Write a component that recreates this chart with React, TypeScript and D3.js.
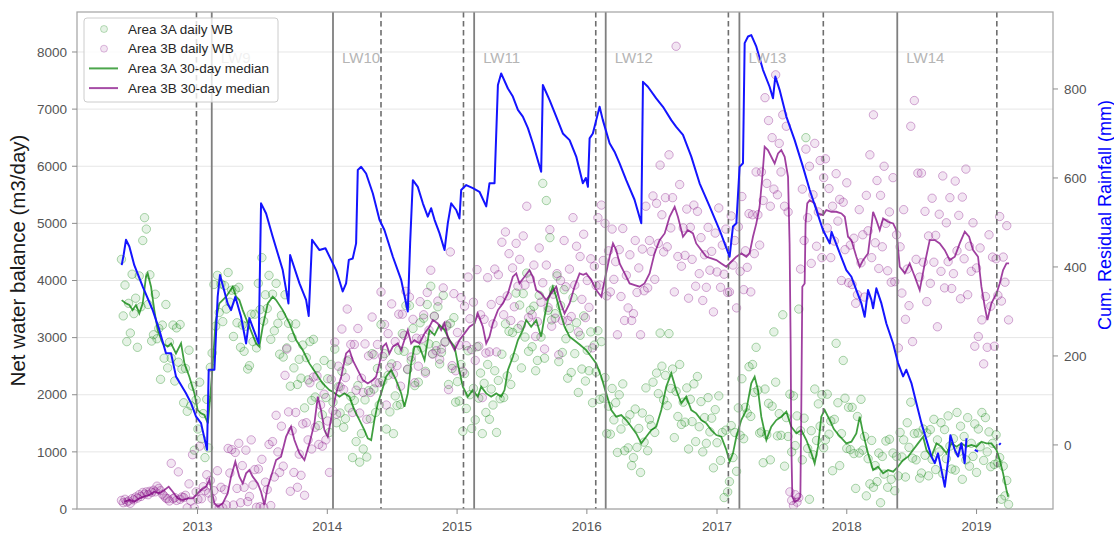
import React, { useRef, useEffect } from 'react';
import * as d3 from 'd3';

// daily water balance, sampled every 5 days from wbStart (m3/day)
const wbStart = '2012-06-01';
const wbStepDays = 5;

const area3A = [
  4370, 3380, 3920, 2930, 3600, 3080, 4110, 3420, 3690, 2830, 4080, 3540, 4700, 5100, 4900, 3580, 4100, 2940,
  3050, 3760, 2980, 3160, 2270, 3220, 2640, 3580, 2470, 2920, 2640, 3220, 2240, 3170, 2570, 3230, 2450, 1860,
  2460, 1710, 2780, 1810, 2150, 1030, 1910, 1400, 2220, 1230, 1670, 900, 1920, 1070, 2480, 2730, 3930, 3200,
  4090, 3440, 3940, 3280, 3910, 3500, 4140, 3620, 3830, 3020, 3840, 3260, 3880, 2830, 3220, 2760, 3200, 2450,
  2510, 3410, 2930, 3410, 2820, 3950, 3490, 4400, 3290, 3750, 3510, 4090, 2970, 3760, 3120, 3950, 3250, 2710,
  3390, 2660, 3750, 2820, 3250, 2150, 3000, 2470, 3240, 2180, 2620, 2290, 2870, 1770, 2650, 2260, 2930, 1900,
  2970, 1960, 2470, 1460, 2160, 1650, 2600, 1950, 2280, 1340, 2530, 1870, 2800, 1510, 2140, 1680, 2410, 1430,
  1580, 2590, 1770, 1970, 900, 1900, 1180, 2160, 820, 1320, 1050, 1910, 910, 2070, 1580, 2720, 2100, 1690,
  2460, 1820, 3230, 2240, 2720, 1400, 2340, 1700, 2540, 1320, 1980, 1810, 2780, 1830, 3070, 2760, 3560, 2440,
  3560, 2600, 3160, 2160, 2780, 2220, 3260, 2820, 3340, 2410, 3580, 2890, 3900, 2720, 3380, 2860, 3540, 2540,
  2740, 3740, 2920, 3200, 2180, 3250, 2460, 3350, 1870, 2230, 1890, 2530, 1360, 2370, 1760, 2770, 2000, 1410,
  2110, 1560, 2840, 1940, 2380, 1320, 2200, 1690, 2530, 1570, 2100, 1820, 2420, 1340, 2250, 1930, 2710, 1950,
  3240, 2330, 3110, 2180, 3090, 2650, 3780, 3160, 3570, 2470, 3770, 3010, 4130, 2760, 3480, 2840, 3550, 2420,
  2600, 3740, 3010, 5700, 2640, 5400, 3480, 4750, 3310, 3840, 3420, 4080, 2580, 3560, 2740, 3840, 2980, 2290,
  3160, 2390, 3700, 2720, 3260, 2040, 3040, 2450, 3380, 2240, 2780, 2420, 3100, 1860, 2870, 2400, 3120, 1920,
  2930, 1940, 2300, 1320, 1800, 1310, 2110, 1560, 1860, 990, 2000, 1400, 2190, 1020, 1540, 1070, 1650, 760,
  900, 1750, 1080, 1410, 640, 1680, 1170, 2120, 1020, 1570, 1460, 2220, 1340, 2380, 2020, 3080, 2500, 1910,
  2340, 1810, 3070, 2110, 2450, 1250, 2060, 1620, 2530, 1480, 1870, 1520, 2120, 1050, 1920, 1530, 2190, 1180,
  2320, 1440, 1880, 1000, 1600, 1150, 1950, 1350, 1590, 720, 1740, 1160, 1980, 850, 1340, 200, 1380, 300,
  480, 1460, 900, 1340, 660, 1770, 1290, 2280, 1230, 1780, 1680, 2490, 1620, 2530, 2040, 2830, 2080, 1330,
  1350, 810, 2100, 1300, 1850, 860, 1800, 3100, 2220, 1280, 1670, 1290, 3400, 750, 1600, 1270, 2010, 1000,
  1980, 1110, 1630, 3500, 1370, 860, 1590, 6500, 1060, 170, 1370, 950, 2100, 1200, 1840, 1450, 2000, 1070,
  1210, 2010, 1310, 1540, 670, 1570, 2900, 1860, 760, 1320, 2600, 1940, 1060, 1780, 1040, 1780, 970, 360,
  1620, 980, 1920, 1030, 1270, 230, 880, 440, 1200, 380, 760, 480, 980, 110, 920, 610, 1190, 380,
  1220, 520, 980, 320, 920, 580, 1340, 910, 1210, 560, 1510, 1080, 1870, 890, 1320, 860, 1330, 540,
  630, 1400, 940, 1330, 580, 1390, 870, 1570, 690, 1210, 1000, 1510, 620, 1390, 880, 1630, 1100, 700,
  1230, 680, 1690, 1000, 1450, 520, 1270, 860, 1600, 750, 1150, 920, 1490, 640, 1400, 1090, 1690, 850,
  1600, 1000, 1350, 740, 1150, 780, 1300, 810, 900, 170, 750, 230, 500, 80,
];

const area3B = [
  150, 110, 170, 120, 140, 100, 180, 160, 210, 190, 250, 220, 290, 260, 300, 250, 310, 290,
  330, 300, 400, 360, 320, 260, 230, 190, 180, 140, 800, 180, 200, 150, 650, 170, 210, 200,
  240, 20, 440, 140, 950, 20, 300, 170, 1100, 180, 390, 320, 600, 280, 500, 180, 320, 20,
  670, 20, 380, 20, 340, 70, 1060, 630, 1040, 70, 990, 360, 1150, 110, 760, 380, 1030, 130,
  220, 1210, 420, 690, 30, 700, 40, 870, 30, 470, 340, 1130, 60, 1180, 560, 1640, 1000, 640,
  1450, 750, 2340, 2800, 1700, 310, 1370, 640, 1690, 380, 960, 590, 1490, 240, 1510, 1210, 2210, 1050,
  2310, 1430, 2330, 1130, 1820, 1100, 2010, 1210, 1540, 640, 2270, 1720, 2920, 1660, 2500, 2140, 3150, 2090,
  2300, 3500, 2610, 2880, 1690, 2880, 2080, 3160, 1680, 2290, 2040, 2890, 1570, 2680, 2040, 3360, 2700, 2210,
  2880, 2210, 3800, 2670, 3230, 1820, 3070, 2480, 3590, 2360, 2930, 2510, 3410, 2150, 3410, 3040, 3810, 2450,
  3710, 2660, 3320, 2210, 2990, 2500, 3630, 2980, 3400, 2380, 3790, 3130, 4180, 2710, 3370, 2770, 3640, 2620,
  2800, 3870, 2930, 3220, 2090, 4500, 2510, 3770, 2420, 3090, 2870, 3700, 2410, 3550, 2860, 4060, 3330, 2790,
  3620, 2600, 4190, 2850, 3400, 1950, 3320, 2730, 4050, 2750, 3580, 3240, 4200, 2750, 4100, 3650, 4670, 3400,
  4850, 3730, 4470, 3300, 4220, 3540, 4650, 3900, 4370, 3220, 4780, 3920, 5300, 3350, 4030, 3400, 4270, 3020,
  3280, 4570, 3620, 3960, 2800, 4270, 3530, 4890, 3200, 3760, 3340, 4120, 2700, 4000, 3300, 4700, 3890, 3300,
  4200, 3370, 5100, 3920, 4600, 3100, 4420, 3670, 4810, 3350, 4000, 3530, 4380, 2820, 4250, 3910, 5100, 3920,
  5320, 4350, 5000, 3730, 4520, 3800, 4900, 4020, 4330, 3050, 4540, 3720, 4910, 3300, 4090, 3520, 4450, 3300,
  3420, 4700, 3790, 4220, 3050, 4550, 3820, 5300, 3870, 4700, 4510, 5480, 4020, 5350, 4650, 6020, 5150, 4500,
  5450, 4590, 6200, 4920, 5450, 3800, 8100, 4420, 5680, 4250, 4920, 4440, 5250, 3690, 4930, 4370, 5320, 3900,
  5210, 4120, 4750, 3650, 4450, 3880, 4930, 4180, 4510, 3450, 4830, 4150, 5270, 3880, 4620, 4110, 4900, 3790,
  3800, 5130, 4270, 4700, 3520, 4940, 4160, 5470, 3840, 4520, 4230, 5170, 3800, 5150, 4470, 5900, 5150, 4620,
  5900, 5400, 7200, 5700, 6800, 5300, 6500, 5600, 7600, 5500, 6400, 5900, 6900, 5300, 6700, 5200, 300, 150,
  60, 250, 120, 200, 4200, 5600, 4700, 6300, 5100, 6000, 4300, 5500, 6400, 4600, 5200, 6100, 4400, 5800,
  6130, 4920, 5610, 4400, 5300, 4690, 5870, 5040, 5420, 4000, 5370, 4540, 5710, 3960, 4620, 3930, 4740, 3600,
  3750, 5240, 4310, 4800, 3710, 5490, 4870, 6200, 4400, 6900, 4660, 5750, 4210, 5490, 4590, 6000, 5000, 4170,
  5200, 3970, 5800, 3980, 4800, 2820, 4590, 3780, 5240, 3320, 4200, 3560, 6700, 2930, 7150, 4370, 5880, 4060,
  5880, 4320, 5210, 3630, 4780, 3950, 5440, 4320, 4790, 3190, 5160, 4160, 5830, 3870, 5010, 4330, 5450, 3860,
  4120, 5740, 4520, 5140, 3680, 5460, 4380, 5950, 3750, 4600, 4160, 5010, 2850, 4220, 3020, 4570, 3310, 2540,
  3720, 2830, 4800, 3550, 4410, 2850, 4380, 3740, 5120, 3640, 4410, 3970, 4960, 3310,
];

// 30-day medians, [decimal year, m3/day]
const median3A = [
  [2012.416, 3657], [2012.449, 3599], [2012.475, 3570], [2012.5, 3482], [2012.526, 3570], [2012.552, 3424],
  [2012.578, 3599], [2012.603, 4066], [2012.616, 4124], [2012.642, 3891], [2012.667, 3482], [2012.693, 3132],
  [2012.732, 2899], [2012.77, 2841], [2012.796, 2899], [2012.834, 2724], [2012.873, 2899], [2012.899, 2549],
  [2012.937, 2316], [2012.976, 2024], [2013.001, 1732], [2013.027, 1674], [2013.053, 1645], [2013.08, 1500],
  [2013.11, 2300], [2013.14, 3300], [2013.168, 3599], [2013.22, 3716], [2013.271, 3891], [2013.297, 3716],
  [2013.322, 3657], [2013.348, 3482], [2013.399, 3191], [2013.451, 2899], [2013.476, 2841], [2013.502, 3191],
  [2013.541, 3599], [2013.579, 3716], [2013.605, 3657], [2013.656, 3482], [2013.708, 3249], [2013.759, 2957],
  [2013.81, 2782], [2013.861, 2549], [2013.913, 2374], [2013.964, 2199], [2014.015, 2082], [2014.041, 2053],
  [2014.093, 1966], [2014.131, 2024], [2014.17, 1966], [2014.208, 1732], [2014.247, 1557], [2014.285, 1382],
  [2014.311, 1237], [2014.337, 1207], [2014.362, 1557], [2014.388, 1849], [2014.414, 2024], [2014.452, 2316],
  [2014.491, 2432], [2014.529, 2257], [2014.568, 2024], [2014.593, 1791], [2014.619, 2024], [2014.645, 2549],
  [2014.67, 2841], [2014.709, 2841], [2014.748, 2607], [2014.786, 3132], [2014.825, 3045], [2014.863, 3220],
  [2014.902, 3132], [2014.94, 2957], [2014.979, 2841], [2015.004, 2549], [2015.043, 2141], [2015.081, 1966],
  [2015.12, 2082], [2015.158, 1966], [2015.184, 2141], [2015.223, 2024], [2015.261, 1966], [2015.3, 2024],
  [2015.338, 1966], [2015.364, 2082], [2015.39, 2432], [2015.428, 2666], [2015.467, 2957], [2015.505, 3132],
  [2015.531, 3307], [2015.569, 3191], [2015.608, 3307], [2015.646, 3016], [2015.672, 3366], [2015.698, 3657],
  [2015.736, 3891], [2015.762, 3716], [2015.788, 3482], [2015.826, 3191], [2015.865, 3016], [2015.903, 2950],
  [2015.942, 2880], [2015.993, 2780], [2016.032, 2666], [2016.07, 2549], [2016.109, 2316], [2016.147, 2024],
  [2016.186, 1732], [2016.224, 1616], [2016.263, 1645], [2016.301, 1557], [2016.34, 1441], [2016.378, 1324],
  [2016.417, 1149], [2016.455, 1266], [2016.494, 1382], [2016.532, 1441], [2016.571, 1732], [2016.609, 2141],
  [2016.648, 2374], [2016.686, 2082], [2016.725, 1849], [2016.763, 1966], [2016.802, 1732], [2016.84, 1674],
  [2016.879, 1557], [2016.918, 1499], [2016.956, 1382], [2016.995, 1295], [2017.033, 1266], [2017.072, 1032],
  [2017.097, 828], [2017.123, 974], [2017.149, 1266], [2017.187, 1557], [2017.226, 1732], [2017.264, 2199],
  [2017.29, 2316], [2017.316, 2082], [2017.341, 1616], [2017.38, 1207], [2017.418, 1441], [2017.457, 1557],
  [2017.495, 1616], [2017.534, 1703], [2017.572, 1441], [2017.611, 1324], [2017.649, 1382], [2017.688, 1207],
  [2017.727, 974], [2017.752, 799], [2017.778, 1091], [2017.803, 1616], [2017.829, 1732], [2017.868, 1557],
  [2017.9, 1400], [2017.935, 1300], [2017.996, 1149], [2018.035, 1178], [2018.073, 1324], [2018.099, 1616],
  [2018.125, 1324], [2018.163, 974], [2018.202, 682], [2018.24, 741], [2018.279, 624], [2018.317, 682],
  [2018.356, 653], [2018.394, 741], [2018.433, 857], [2018.471, 916], [2018.51, 1032], [2018.548, 1149],
  [2018.587, 1266], [2018.613, 1032], [2018.651, 916], [2018.69, 1149], [2018.728, 1091], [2018.767, 974],
  [2018.805, 1149], [2018.844, 1091], [2018.882, 1149], [2018.921, 1091], [2018.959, 1120], [2018.998, 1091],
  [2019.036, 1178], [2019.075, 1149], [2019.113, 1149], [2019.152, 1032], [2019.177, 857], [2019.203, 624],
  [2019.229, 332], [2019.242, 216],
];

const median3B = [
  [2012.436, 128], [2012.475, 157], [2012.513, 128], [2012.552, 187], [2012.59, 216], [2012.629, 245],
  [2012.667, 303], [2012.706, 274], [2012.745, 332], [2012.778, 391], [2012.809, 303], [2012.847, 187],
  [2012.886, 157], [2012.924, 187], [2012.963, 187], [2013.001, 274], [2013.027, 332], [2013.065, 391],
  [2013.091, 507], [2013.11, 300], [2013.13, 99], [2013.155, 41], [2013.194, 99], [2013.232, 274],
  [2013.258, 566], [2013.291, 828], [2013.322, 566], [2013.348, 449], [2013.374, 624], [2013.399, 682],
  [2013.425, 566], [2013.464, 449], [2013.489, 303], [2013.515, 70], [2013.541, 391], [2013.566, 566],
  [2013.605, 857], [2013.643, 916], [2013.682, 1266], [2013.72, 1441], [2013.746, 1207], [2013.785, 974],
  [2013.823, 857], [2013.862, 1149], [2013.9, 1499], [2013.926, 1966], [2013.951, 1732], [2013.977, 1382],
  [2014.003, 1266], [2014.041, 1732], [2014.067, 2024], [2014.106, 2316], [2014.144, 2724], [2014.17, 2782],
  [2014.195, 2607], [2014.234, 2432], [2014.273, 2257], [2014.311, 2199], [2014.35, 2257], [2014.375, 2316],
  [2014.401, 2549], [2014.427, 2841], [2014.452, 2899], [2014.478, 2724], [2014.504, 2841], [2014.542, 2899],
  [2014.568, 2782], [2014.593, 2957], [2014.619, 3132], [2014.645, 2899], [2014.67, 2957], [2014.709, 2899],
  [2014.748, 3074], [2014.786, 3191], [2014.812, 3307], [2014.85, 3249], [2014.876, 3132], [2014.902, 3249],
  [2014.927, 3016], [2014.953, 2899], [2014.979, 2782], [2015.017, 2957], [2015.056, 3074], [2015.094, 3191],
  [2015.133, 3249], [2015.158, 3424], [2015.197, 3191], [2015.223, 2899], [2015.248, 3016], [2015.274, 3249],
  [2015.313, 3482], [2015.351, 3599], [2015.39, 3774], [2015.428, 4066], [2015.454, 4124], [2015.479, 3949],
  [2015.518, 4066], [2015.556, 4182], [2015.582, 4066], [2015.608, 3832], [2015.646, 3774], [2015.685, 3657],
  [2015.723, 3774], [2015.762, 3891], [2015.788, 3657], [2015.826, 3424], [2015.865, 3599], [2015.903, 3891],
  [2015.942, 4124], [2015.97, 4100], [2015.993, 4124], [2016.032, 4007], [2016.07, 3832], [2016.109, 3716],
  [2016.135, 4007], [2016.173, 4416], [2016.199, 4649], [2016.224, 4532], [2016.25, 4299], [2016.289, 4124],
  [2016.327, 3949], [2016.366, 3920], [2016.404, 3891], [2016.442, 3949], [2016.481, 4124], [2016.519, 4474],
  [2016.558, 4707], [2016.597, 4824], [2016.635, 5116], [2016.674, 5291], [2016.699, 5116], [2016.738, 4766],
  [2016.776, 4882], [2016.815, 4824], [2016.84, 4649], [2016.879, 4532], [2016.918, 4416], [2016.956, 4386],
  [2016.995, 4357], [2017.033, 4299], [2017.072, 4241], [2017.11, 4328], [2017.149, 4416], [2017.187, 4474],
  [2017.226, 4416], [2017.251, 4474], [2017.277, 4766], [2017.303, 5000], [2017.328, 5291], [2017.349, 5816],
  [2017.367, 6341], [2017.392, 6282], [2017.418, 6166], [2017.444, 6049], [2017.47, 6224], [2017.495, 6282],
  [2017.521, 6166], [2017.547, 5816], [2017.559, 4649], [2017.567, 2899], [2017.572, 1149], [2017.58, 216],
  [2017.598, 128], [2017.624, 157], [2017.642, 216], [2017.649, 1732], [2017.657, 3891], [2017.675, 3949],
  [2017.682, 5000], [2017.695, 5349], [2017.714, 5407], [2017.752, 5349], [2017.778, 5174], [2017.816, 5145],
  [2017.842, 5232], [2017.881, 5203], [2017.919, 5203], [2017.958, 5174], [2017.984, 5116], [2018.009, 4766],
  [2018.035, 4707], [2018.073, 4416], [2018.099, 4241], [2018.125, 4357], [2018.163, 4474], [2018.189, 4941],
  [2018.202, 5203], [2018.227, 5057], [2018.253, 4882], [2018.279, 5087], [2018.317, 5028], [2018.356, 5000],
  [2018.381, 4882], [2018.407, 4241], [2018.446, 4124], [2018.484, 4299], [2018.523, 4066], [2018.561, 3832],
  [2018.6, 4299], [2018.638, 4707], [2018.677, 4707], [2018.715, 4649], [2018.754, 4532], [2018.792, 4357],
  [2018.831, 4416], [2018.869, 4649], [2018.908, 4853], [2018.941, 4766], [2018.972, 4532], [2019.01, 4416],
  [2019.036, 3891], [2019.062, 3541], [2019.082, 3307], [2019.113, 3599], [2019.152, 3774], [2019.177, 3949],
  [2019.203, 4182], [2019.229, 4299], [2019.249, 4299],
];

// cumulative residual rainfall, [decimal year, mm]; null = gap
const residualRainfall = [
  [2012.416, 404], [2012.431, 427], [2012.449, 461], [2012.475, 446], [2012.513, 404], [2012.578, 356],
  [2012.655, 303], [2012.706, 258], [2012.757, 206], [2012.796, 206], [2012.834, 154], [2012.911, 116],
  [2012.95, 94], [2012.988, 64], [2013.027, 49], [2013.073, -11], [2013.086, 169], [2013.13, 169],
  [2013.155, 333], [2013.173, 382], [2013.232, 318], [2013.258, 303], [2013.291, 333], [2013.335, 288],
  [2013.374, 228], [2013.399, 285], [2013.471, 228], [2013.489, 543], [2013.528, 520], [2013.579, 468],
  [2013.656, 393], [2013.7, 318], [2013.713, 427], [2013.785, 363], [2013.836, 326], [2013.856, 290],
  [2013.882, 461], [2013.939, 438], [2013.985, 442], [2014.067, 393], [2014.118, 345], [2014.144, 363],
  [2014.165, 416], [2014.195, 419], [2014.221, 453], [2014.234, 618], [2014.26, 625], [2014.298, 610],
  [2014.35, 565], [2014.401, 506], [2014.439, 483], [2014.504, 423], [2014.568, 371], [2014.619, 300],
  [2014.637, 453], [2014.658, 595], [2014.696, 580], [2014.735, 543], [2014.773, 513], [2014.799, 532],
  [2014.825, 506], [2014.863, 476], [2014.902, 438], [2014.927, 498], [2014.953, 543], [2014.992, 528],
  [2015.017, 509], [2015.03, 573], [2015.069, 584], [2015.12, 577], [2015.171, 569], [2015.223, 536],
  [2015.248, 588], [2015.287, 588], [2015.313, 809], [2015.338, 835], [2015.39, 801], [2015.428, 783],
  [2015.467, 753], [2015.505, 738], [2015.544, 712], [2015.582, 678], [2015.646, 614], [2015.659, 809],
  [2015.711, 775], [2015.762, 738], [2015.813, 700], [2015.865, 685], [2015.916, 648], [2015.967, 588],
  [2015.99, 600], [2016.006, 580], [2016.019, 689], [2016.044, 700], [2016.07, 730], [2016.096, 760],
  [2016.121, 730], [2016.173, 678], [2016.211, 659], [2016.25, 633], [2016.301, 595], [2016.365, 551],
  [2016.417, 498], [2016.43, 816], [2016.468, 805], [2016.532, 779], [2016.584, 760], [2016.648, 730],
  [2016.686, 715], [2016.738, 697], [2016.802, 648], [2016.866, 588], [2016.943, 536], [2017.02, 483],
  [2017.097, 423], [2017.123, 491], [2017.149, 498], [2017.174, 625], [2017.2, 633], [2017.213, 903],
  [2017.239, 918], [2017.264, 921], [2017.303, 895], [2017.354, 843], [2017.405, 805], [2017.431, 779],
  [2017.449, 828], [2017.482, 798], [2017.534, 738], [2017.598, 685], [2017.662, 625], [2017.714, 573],
  [2017.765, 528], [2017.816, 483], [2017.868, 453], [2017.882, 479], [2017.906, 461], [2017.945, 431],
  [2017.996, 393], [2018.035, 378], [2018.073, 348], [2018.112, 318], [2018.137, 288], [2018.163, 348],
  [2018.189, 326], [2018.202, 307], [2018.227, 352], [2018.266, 318], [2018.304, 273], [2018.356, 228],
  [2018.394, 184], [2018.433, 154], [2018.458, 169], [2018.497, 139], [2018.535, 94], [2018.574, 49],
  [2018.613, 11], [2018.651, -26], [2018.677, -41], [2018.702, -19], [2018.728, -56], [2018.754, -94],
  [2018.78, -34], [2018.797, 22], [2018.831, -11], [2018.856, -26], [2018.882, 4], [2018.907, -41],
  [2018.921, 15], [2018.95, null], [2018.985, -11], [2019.01, -15], [2019.1, null], [2019.172, 0],
  [2019.185, 4],
];

const lwStarts = [
  { name: 'LW9', date: '2013-02-10' },
  { name: 'LW10', date: '2014-01-17' },
  { name: 'LW11', date: '2015-02-18' },
  { name: 'LW12', date: '2016-02-23' },
  { name: 'LW13', date: '2017-03-05' },
  { name: 'LW14', date: '2018-05-23' },
];
const lwEnds = ['2012-12-29', '2014-06-01', '2015-01-19', '2016-01-26', '2017-02-02', '2017-10-27', '2019-02-27'];

const yearTicks = [2013, 2014, 2015, 2016, 2017, 2018, 2019];
const wbTicks = [0, 1000, 2000, 3000, 4000, 5000, 6000, 7000, 8000];
const rainTicks = [0, 200, 400, 600, 800];

const FONT = 'Arial, "Liberation Sans", sans-serif';

const fromDecimalYear = (y: number) => new Date(Date.UTC(2013, 0, 1) + (y - 2013) * 365.25 * 864e5);

const WaterBalanceChart = () => {
  const svgRef = useRef<SVGSVGElement>(null);

  useEffect(() => {
    const svg = d3.select(svgRef.current);
    svg.selectAll('*').remove();

    const width = 1114;
    const height = 535;
    const margin = { top: 12, right: 61, bottom: 26, left: 77 };
    const left = margin.left, right = width - margin.right;
    const top = margin.top, bottom = height - margin.bottom;

    const x = d3.scaleUtc()
      .domain([new Date(Date.UTC(2012, 0, 28)), new Date(Date.UTC(2019, 7, 4))])
      .range([left, right]);
    const y = d3.scaleLinear().domain([0, 8700]).range([bottom, top]);
    const y2 = d3.scaleLinear().domain([-144, 973]).range([bottom, top]);

    svg.style('font-family', FONT);

    // horizontal grid
    svg.append('g')
      .selectAll('line')
      .data(wbTicks)
      .join('line')
      .attr('x1', left).attr('x2', right)
      .attr('y1', d => y(d)).attr('y2', d => y(d))
      .attr('stroke', '#e6e6e6').attr('stroke-width', 1);

    svg.append('clipPath').attr('id', 'plot-clip')
      .append('rect').attr('x', left).attr('y', top)
      .attr('width', right - left).attr('height', bottom - top);

    const plot = svg.append('g').attr('clip-path', 'url(#plot-clip)');

    const start = new Date(wbStart + 'T00:00:00Z');
    const pts = (vals: number[]) => vals.map((v, i) => ({ date: d3.utcDay.offset(start, i * wbStepDays), v }));

    const scatter = (vals: number[], color: string) => {
      plot.append('g')
        .selectAll('circle')
        .data(pts(vals))
        .join('circle')
        .attr('cx', d => x(d.date))
        .attr('cy', d => y(d.v))
        .attr('r', 4.2)
        .attr('fill', color).attr('fill-opacity', 0.1)
        .attr('stroke', color).attr('stroke-opacity', 0.32).attr('stroke-width', 1);
    };
    scatter(area3A, 'green');
    scatter(area3B, 'purple');

    const medianLine = d3.line<number[]>()
      .x(d => x(fromDecimalYear(d[0])))
      .y(d => y(d[1]));

    plot.append('path').datum(median3A)
      .attr('d', medianLine).attr('fill', 'none')
      .attr('stroke', 'green').attr('stroke-opacity', 0.75).attr('stroke-width', 1.8);
    plot.append('path').datum(median3B)
      .attr('d', medianLine).attr('fill', 'none')
      .attr('stroke', 'purple').attr('stroke-opacity', 0.75).attr('stroke-width', 1.8);

    // longwall start / end markers
    plot.append('g').selectAll('line')
      .data(lwStarts)
      .join('line')
      .attr('x1', d => x(new Date(d.date))).attr('x2', d => x(new Date(d.date)))
      .attr('y1', top).attr('y2', bottom)
      .attr('stroke', '#7f7f7f').attr('stroke-width', 1.8);
    plot.append('g').selectAll('line')
      .data(lwEnds)
      .join('line')
      .attr('x1', d => x(new Date(d))).attr('x2', d => x(new Date(d)))
      .attr('y1', top).attr('y2', bottom)
      .attr('stroke', '#6e6e6e').attr('stroke-width', 1.6)
      .attr('stroke-dasharray', '5.5,3.5');

    svg.append('g').selectAll('text')
      .data(lwStarts)
      .join('text')
      .attr('x', d => x(new Date(d.date)) + 9)
      .attr('y', y(7800))
      .attr('font-size', 15)
      .attr('fill', '#b5b5b5')
      .text(d => d.name);

    const rainLine = d3.line<(number | null)[]>()
      .defined(d => d[1] !== null)
      .x(d => x(fromDecimalYear(d[0] as number)))
      .y(d => y2(d[1] as number));
    plot.append('path').datum(residualRainfall)
      .attr('d', rainLine).attr('fill', 'none')
      .attr('stroke', '#1414ff').attr('stroke-width', 2).attr('stroke-linejoin', 'round');

    // frame
    svg.append('rect')
      .attr('x', left).attr('y', top)
      .attr('width', right - left).attr('height', bottom - top)
      .attr('fill', 'none').attr('stroke', '#a6a6a6').attr('stroke-width', 1.25);

    const tickColor = '#8c8c8c';
    const labelColor = '#555';

    // left axis
    const gl = svg.append('g');
    gl.selectAll('line').data(wbTicks).join('line')
      .attr('x1', left - 5).attr('x2', left)
      .attr('y1', d => y(d)).attr('y2', d => y(d))
      .attr('stroke', tickColor);
    gl.selectAll('text').data(wbTicks).join('text')
      .attr('x', left - 10).attr('y', d => y(d)).attr('dy', '0.35em')
      .attr('text-anchor', 'end').attr('font-size', 13.5).attr('fill', labelColor)
      .text(d => d);

    // right axis
    const gr = svg.append('g');
    gr.selectAll('line').data(rainTicks).join('line')
      .attr('x1', right).attr('x2', right + 5)
      .attr('y1', d => y2(d)).attr('y2', d => y2(d))
      .attr('stroke', tickColor);
    gr.selectAll('text').data(rainTicks).join('text')
      .attr('x', right + 11).attr('y', d => y2(d)).attr('dy', '0.35em')
      .attr('text-anchor', 'start').attr('font-size', 13.5).attr('fill', labelColor)
      .text(d => d);

    // bottom axis
    const gb = svg.append('g');
    gb.selectAll('line').data(yearTicks).join('line')
      .attr('x1', d => x(new Date(Date.UTC(d, 0, 1)))).attr('x2', d => x(new Date(Date.UTC(d, 0, 1))))
      .attr('y1', bottom).attr('y2', bottom + 5)
      .attr('stroke', tickColor);
    gb.selectAll('text').data(yearTicks).join('text')
      .attr('x', d => x(new Date(Date.UTC(d, 0, 1)))).attr('y', bottom + 22)
      .attr('text-anchor', 'middle').attr('font-size', 13.5).attr('fill', labelColor)
      .text(d => d);

    svg.append('text')
      .attr('transform', `translate(25,${(top + bottom) / 2}) rotate(-90)`)
      .attr('text-anchor', 'middle').attr('font-size', 20.5).attr('fill', '#1a1a1a')
      .text('Net water balance (m3/day)');
    svg.append('text')
      .attr('transform', `translate(1111,215) rotate(-90)`)
      .attr('text-anchor', 'middle').attr('font-size', 18).attr('fill', '#0000ff')
      .text('Cum. Residual Rainfall (mm)');

    // legend
    const lg = svg.append('g');
    lg.append('rect')
      .attr('x', 84).attr('y', 18).attr('width', 194).attr('height', 84).attr('rx', 3)
      .attr('fill', 'white').attr('fill-opacity', 0.8)
      .attr('stroke', '#cccccc').attr('stroke-width', 1);
    const items = [
      { label: 'Area 3A daily WB', color: 'green', kind: 'dot' },
      { label: 'Area 3B daily WB', color: 'purple', kind: 'dot' },
      { label: 'Area 3A 30-day median', color: 'green', kind: 'line' },
      { label: 'Area 3B 30-day median', color: 'purple', kind: 'line' },
    ];
    items.forEach((it, i) => {
      const cy = 29 + i * 19.7;
      if (it.kind === 'dot') {
        lg.append('circle').attr('cx', 104).attr('cy', cy).attr('r', 3.5)
          .attr('fill', it.color).attr('fill-opacity', 0.1)
          .attr('stroke', it.color).attr('stroke-opacity', 0.25);
      } else {
        lg.append('line').attr('x1', 89).attr('x2', 118).attr('y1', cy).attr('y2', cy)
          .attr('stroke', it.color).attr('stroke-opacity', 0.7).attr('stroke-width', 2);
      }
      lg.append('text').attr('x', 128).attr('y', cy).attr('dy', '0.35em')
        .attr('font-size', 13.5).attr('fill', '#262626').text(it.label);
    });
  }, []);

  return (
    <svg ref={svgRef} width={1114} height={535} style={{ position: 'absolute', left: 0, top: 0 }}></svg>
  );
};

export default function App() {
  return <WaterBalanceChart />;
}
